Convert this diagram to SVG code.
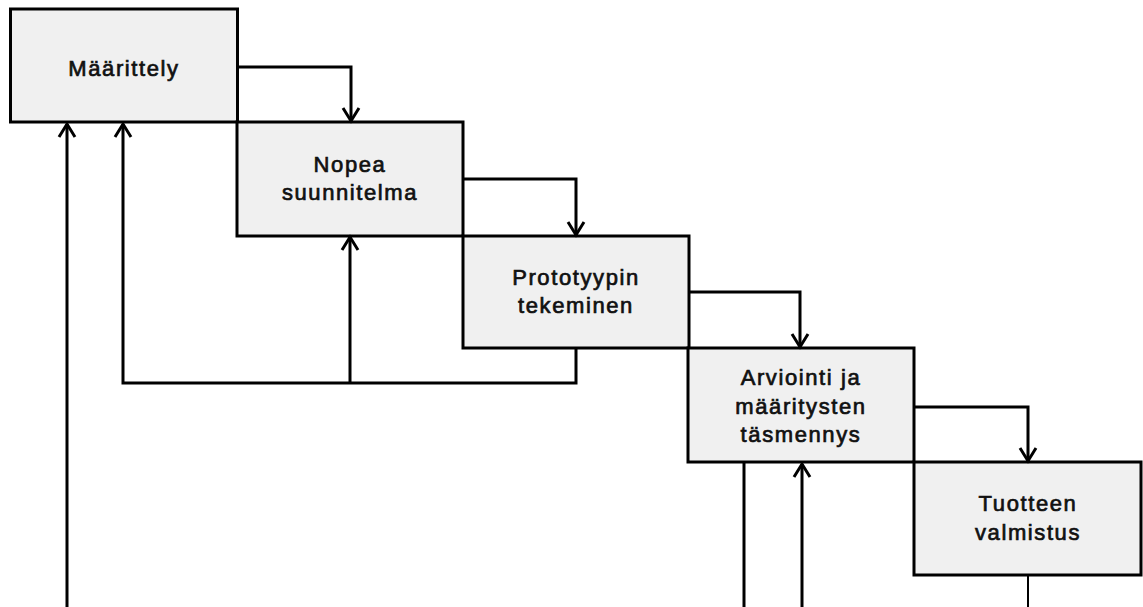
<svg xmlns="http://www.w3.org/2000/svg" width="1143" height="607" viewBox="0 0 1143 607">
  <style>
    .box { fill: #f0f0f0; stroke: #000; stroke-width: 3; }
    .lbl { font-family: "Liberation Sans", Arial, sans-serif; font-size: 22px; letter-spacing: 1.6px; fill: #111; stroke: #111; stroke-width: 0.7px; text-anchor: middle; }
    .wire { fill: none; stroke: #000; stroke-width: 3; stroke-linejoin: miter; }
    .thin { fill: none; stroke: #000; stroke-width: 2; }
  </style>
  <defs>
    <marker id="chev" viewBox="-16 -11 19 22" markerWidth="19" markerHeight="22" refX="0" refY="0" orient="auto" markerUnits="userSpaceOnUse">
      <path d="M -13 -8 L 0 0 L -13 8" fill="none" stroke="#000" stroke-width="3"/>
    </marker>
  </defs>
  <rect width="1143" height="607" fill="#fff"/>

  <g id="n-maarittely">
    <rect class="box" x="10.5" y="9" width="227" height="113"/>
    <text class="lbl" x="124" y="76">Määrittely</text>
  </g>
  <g id="n-nopea">
    <rect class="box" x="237" y="122" width="226" height="114"/>
    <text class="lbl" x="350" y="172">Nopea</text>
    <text class="lbl" x="350" y="200">suunnitelma</text>
  </g>
  <g id="n-prototyyppi">
    <rect class="box" x="463" y="236" width="226" height="112"/>
    <text class="lbl" x="576" y="285">Prototyypin</text>
    <text class="lbl" x="576" y="313">tekeminen</text>
  </g>
  <g id="n-arviointi">
    <rect class="box" x="688" y="348" width="226" height="114"/>
    <text class="lbl" x="801" y="385">Arviointi ja</text>
    <text class="lbl" x="801" y="414">määritysten</text>
    <text class="lbl" x="801" y="442">täsmennys</text>
  </g>
  <g id="n-tuote">
    <rect class="box" x="914" y="462" width="227" height="113"/>
    <text class="lbl" x="1028" y="511">Tuotteen</text>
    <text class="lbl" x="1028" y="540">valmistus</text>
  </g>

  <g id="connectors">
    <!-- forward steps -->
    <path class="wire" d="M 237 67 H 351 V 121" marker-end="url(#chev)"/>
    <path class="wire" d="M 463 179 H 576 V 235" marker-end="url(#chev)"/>
    <path class="wire" d="M 689 292 H 800 V 347" marker-end="url(#chev)"/>
    <path class="wire" d="M 914 407 H 1028 V 461" marker-end="url(#chev)"/>
    <!-- prototype feedback loop -->
    <path class="wire" d="M 576 349 V 383 H 123 V 124" marker-end="url(#chev)"/>
    <path class="wire" d="M 350 383 V 237" marker-end="url(#chev)"/>
    <!-- long returns from below -->
    <path class="wire" d="M 67 607 V 124" marker-end="url(#chev)"/>
    <path class="wire" d="M 744 463 V 607"/>
    <path class="wire" d="M 802 607 V 464" marker-end="url(#chev)"/>
    <path class="thin" d="M 1028 576 V 607"/>
  </g>
</svg>
